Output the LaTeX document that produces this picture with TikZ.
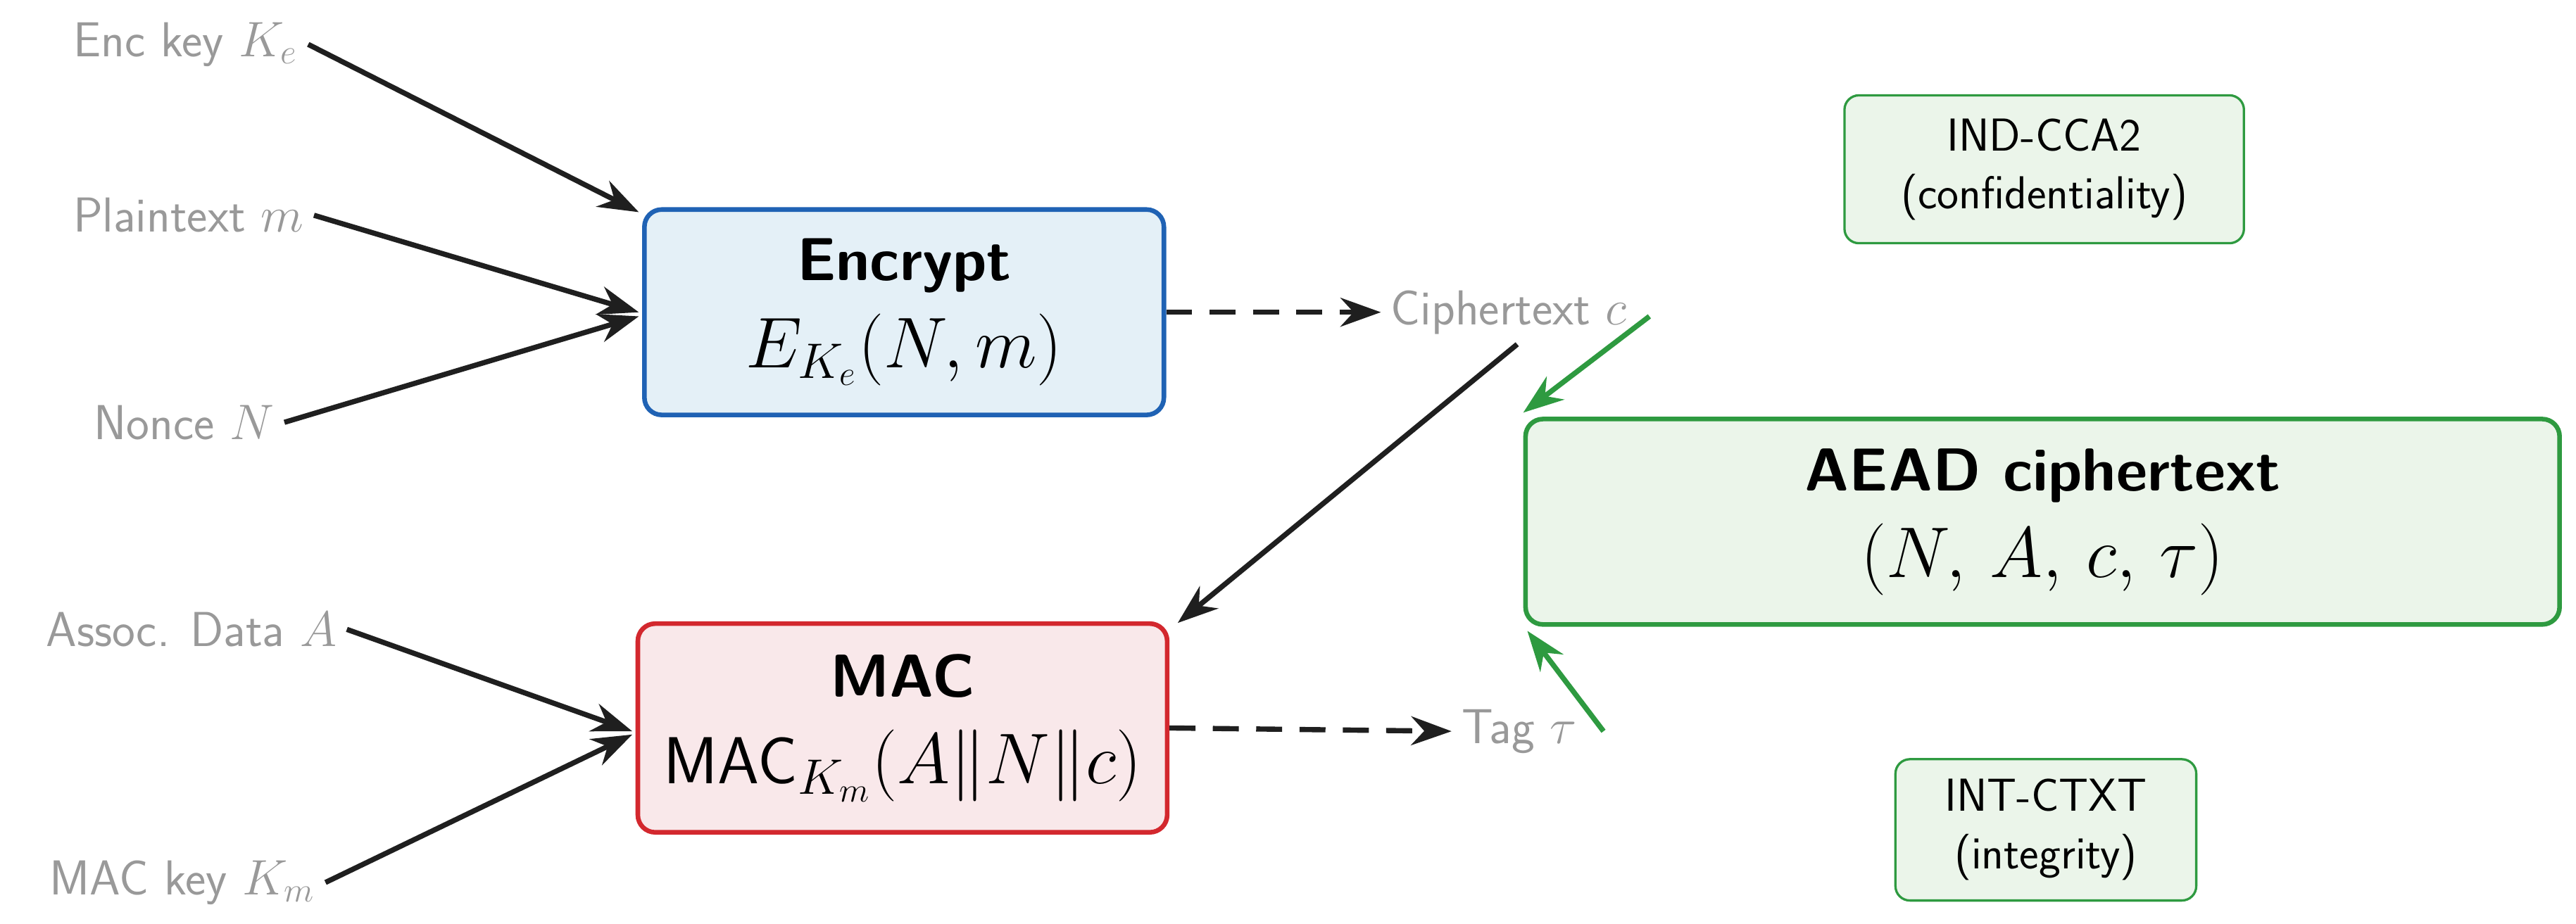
\documentclass[tikz,border=0pt]{standalone}
\usepackage{amsmath,amssymb}
\usepackage{xcolor}
\usepackage{tikz}
\usetikzlibrary{arrows.meta,calc}

\definecolor{encblue}{HTML}{1F62B4}
\definecolor{encfill}{HTML}{E4F0F7}
\definecolor{macred}{HTML}{D3282E}
\definecolor{macfill}{HTML}{F9E8EA}
\definecolor{aeadgreen}{HTML}{2E9A40}
\definecolor{aeadfill}{HTML}{EBF5EA}
\definecolor{lblgray}{HTML}{999999}

\begin{document}
\begin{tikzpicture}[
        font=\sffamily,
        inp/.style={text=lblgray, font=\sffamily\fontsize{17}{19}\selectfont},
        box/.style={draw, rounded corners=6pt, line width=1.6pt, align=center,
            font=\sffamily\fontsize{21}{30}\selectfont},
        prop/.style={draw=aeadgreen, fill=aeadfill, rounded corners=5pt, line width=0.8pt,
            align=center, font=\sffamily\fontsize{16}{20}\selectfont},
        flow/.style={-{Stealth[length=14pt,width=10pt]}, line width=1.8pt, black!88},
        result/.style={flow, dashed, dash pattern=on 9pt off 6pt},
        bind/.style={flow, aeadgreen}
    ]
        \useasboundingbox (0,0) rectangle (31.34,-11.245);

        % Boxes
        \node (encrypt) [box, draw=encblue, fill=encfill, minimum width=6.32cm, minimum height=2.5cm]
            at (11.0,-3.8) {\textbf{Encrypt}\\{\fontsize{24}{28}\selectfont$E_{K_e}(N,m)$}};
        \node (mac)     [box, draw=macred, fill=macfill, minimum width=6.44cm, minimum height=2.54cm]
            at (10.98,-8.86) {\textbf{MAC}\\{\fontsize{23}{28}\selectfont MAC$_{K_m}(A\|N\|c)$}};
        \node (aead)    [box, draw=aeadgreen, fill=aeadfill, minimum width=12.58cm, minimum height=2.5cm]
            at (24.85,-6.35) {\textbf{AEAD ciphertext}\\{\fontsize{24}{28}\selectfont$(N,\,A,\,c,\,\tau)$}};
        \node (indcca)  [prop, minimum width=4.86cm, minimum height=1.8cm]
            at (24.87,-2.06) {IND-CCA2\\(confidentiality)};
        \node (intctxt) [prop, minimum width=3.66cm, minimum height=1.72cm]
            at (24.89,-10.1) {INT-CTXT\\(integrity)};

        % Inputs and outputs
        \node (keye)   [inp, anchor=east] at (3.75,-0.54)  {Enc key $K_e$};
        \node (plain)  [inp, anchor=east] at (3.82,-2.62) {Plaintext $m$};
        \node (nonce)  [inp, anchor=east] at (3.46,-5.14)  {Nonce $N$};
        \node (assoc)  [inp, anchor=east] at (4.22,-7.66) {Assoc. Data $A$};
        \node (keym)   [inp, anchor=east] at (3.96,-10.74) {MAC key $K_m$};
        \node (cipher) [inp, anchor=west] at (16.8,-3.8) {Ciphertext $c$};
        \node (tag)    [inp, anchor=west] at (17.66,-8.9) {Tag $\tau$};

        % Edges
        \draw [flow] (keye.east) -- ($(encrypt.north west)+(-0.04,-0.06)$);
        \draw [flow] (plain.east) -- ($(encrypt.west)+(-0.04,0)$);
        \draw [flow] (nonce.east) -- ($(encrypt.west)+(-0.04,-0.05)$);
        \draw [flow] (assoc.east) -- ($(mac.west)+(-0.04,-0.04)$);
        \draw [flow] (keym.east) -- ($(mac.west)+(-0.04,-0.08)$);
        \draw [result] (encrypt.east) -- (cipher.west);
        \draw [result] (mac.east) -- (tag.west);
        \draw [flow] ($(cipher.south)+(0.1,0)$) -- ($(mac.north east)+(0.1,-0.02)$);
        \draw [bind] ($(cipher.east)+(0.15,-0.05)$) -- ($(aead.north west)+(0,0.05)$);
        \draw [bind] ($(tag.east)+(0.2,0)$) -- ($(aead.south west)+(0.05,-0.05)$);

    \end{tikzpicture}
\end{document}
